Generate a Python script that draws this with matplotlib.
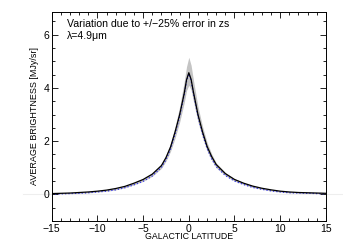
import numpy as np
import matplotlib
matplotlib.use("Agg")
from matplotlib import pyplot as plt
from matplotlib.ticker import MultipleLocator

# galactic latitude samples and average brightness (MJy/sr)
latitude = [-15, -14, -13, -12, -11, -10, -9, -8, -7, -6, -5, -4, -3, -2.5, -2,
            -1.5, -1, -0.5, -0.25, 0, 0.25, 0.5, 1, 1.5, 2, 2.5, 3, 4, 5, 6,
            7, 8, 9, 10, 11, 12, 13, 14, 15]
brightness = [0.03, 0.04, 0.05, 0.07, 0.09, 0.12, 0.16, 0.22, 0.30, 0.42, 0.56,
              0.76, 1.08, 1.38, 1.78, 2.35, 3.0, 3.8, 4.3, 4.57, 4.32, 3.85,
              3.0, 2.35, 1.8, 1.42, 1.12, 0.78, 0.56, 0.42, 0.31, 0.23, 0.17,
              0.12, 0.09, 0.07, 0.06, 0.05, 0.04]
# model curve (blue dotted)
model = [0.01, 0.02, 0.03, 0.04, 0.06, 0.09, 0.12, 0.17, 0.25, 0.36, 0.49,
         0.69, 1.01, 1.30, 1.70, 2.27, 2.93, 3.75, 4.25, 4.52, 4.27, 3.80,
         2.93, 2.27, 1.72, 1.33, 1.04, 0.71, 0.50, 0.37, 0.26, 0.19, 0.13,
         0.09, 0.06, 0.05, 0.04, 0.03, 0.02]
# envelope for +/-25% error in zs
band_low = [0.01, 0.02, 0.03, 0.04, 0.06, 0.09, 0.12, 0.17, 0.25, 0.36, 0.49,
            0.68, 0.98, 1.25, 1.62, 2.12, 2.72, 3.45, 3.9, 4.1, 3.92, 3.5,
            2.72, 2.12, 1.64, 1.28, 1.0, 0.7, 0.5, 0.37, 0.26, 0.19, 0.13,
            0.09, 0.06, 0.05, 0.04, 0.03, 0.02]
band_high = [0.04, 0.05, 0.06, 0.08, 0.10, 0.13, 0.17, 0.23, 0.31, 0.44, 0.59,
             0.80, 1.15, 1.48, 1.92, 2.55, 3.3, 4.25, 4.8, 5.15, 4.85, 4.3,
             3.3, 2.55, 1.95, 1.52, 1.18, 0.82, 0.59, 0.44, 0.32, 0.24, 0.18,
             0.13, 0.10, 0.08, 0.07, 0.06, 0.05]

plt.rcParams['font.family'] = ['Liberation Sans', 'DejaVu Sans']

fig = plt.figure(figsize=(3.43, 2.45), dpi=100)
ax = fig.add_axes([0.151, 0.098, 0.799, 0.853])

ax.axhline(0, xmin=-0.105, xmax=1.06, color='#eeeeee', lw=0.8, clip_on=False, zorder=0)
ax.fill_between(latitude, band_low, band_high, color='#c4c4c4', lw=0, zorder=1)
ax.plot(latitude, model, color='#3333ee', ls=':', lw=0.9, zorder=2)
ax.plot(latitude, brightness, color='black', lw=0.9, zorder=3)

ax.set_xlim(-15, 15)
ax.set_ylim(-1, 6.85)
ax.xaxis.set_major_locator(MultipleLocator(5))
ax.xaxis.set_minor_locator(MultipleLocator(1))
ax.yaxis.set_major_locator(MultipleLocator(2))
ax.yaxis.set_minor_locator(MultipleLocator(0.5))
ax.tick_params(which='both', direction='in', top=True, right=True,
               labelsize=7.5, width=0.6, pad=2)
ax.tick_params(which='major', length=4)
ax.tick_params(which='minor', length=2)
ax.set_xticks([-15, -10, -5, 0, 5, 10, 15])
ax.set_xticklabels(['\u221215', '\u221210', '\u22125', '0', '5', '10', '15'])
for s in ax.spines.values():
    s.set_linewidth(0.7)

ax.set_xlabel('GALACTIC LATITUDE', fontsize=6.3, labelpad=-1)
ax.set_ylabel('AVERAGE BRIGHTNESS [MJy/sr]', fontsize=6.5, labelpad=3)

ax.text(0.055, 0.965, 'Variation due to +/\u221225% error in zs',
        transform=ax.transAxes, fontsize=7.6, va='top')
ax.text(0.055, 0.91, '\u03bb=4.9\u03bcm',
        transform=ax.transAxes, fontsize=7.6, va='top')

fig.savefig('out.png', dpi=100)
